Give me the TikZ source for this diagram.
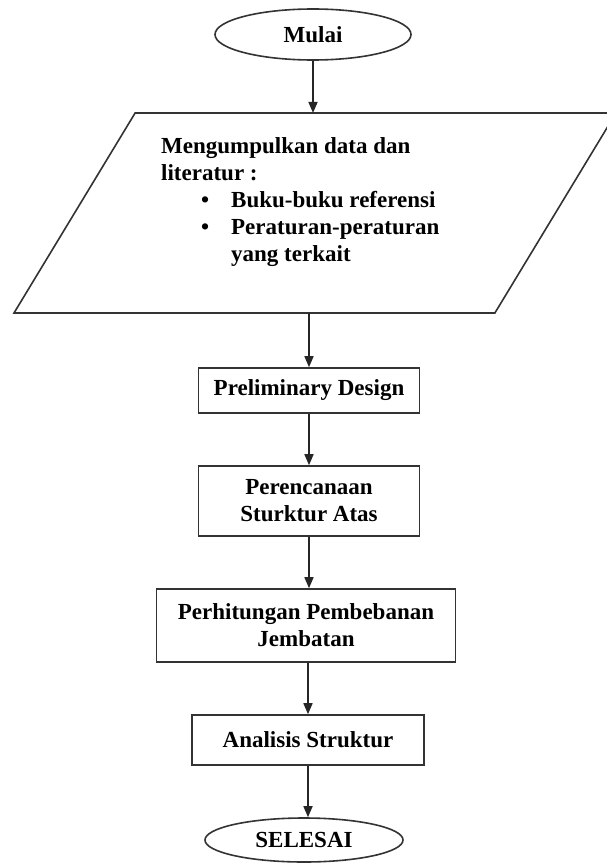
\documentclass[tikz,border=0pt]{standalone}
\usepackage{fontspec}
\setmainfont{Liberation Serif}
\usetikzlibrary{shapes.geometric, arrows.meta}

\begin{document}
\begin{tikzpicture}[x=1pt, y=-1pt, >={Triangle[length=11pt, width=9pt]},
    every node/.style={font=\bfseries\fontsize{23}{27}\selectfont, text=black},
    garis/.style={draw=black!80, line width=1.6pt},
    terminal/.style={garis, ellipse, inner sep=0pt},
    proses/.style={garis, rectangle, inner sep=0pt, align=center},
    panah/.style={->, draw=black!85, line width=1.6pt}]

    \useasboundingbox (0,0) rectangle (607,864);
    \clip (0,0) rectangle (607,864);

    % mulai
    \node[terminal, minimum width=196pt, minimum height=51pt] (mulai) at (313,34.5) {Mulai};

    % input data dan literatur
    \node[garis, trapezium, trapezium left angle=58.8, trapezium right angle=121.2,
          trapezium stretches body, minimum width=602pt,
          inner xsep=1pt, inner ysep=100pt, outer sep=0pt] (data) at (315,213) {};
    \node[anchor=north west, align=left, inner sep=0pt] (datateks) at (161,137)
        {Mengumpulkan data dan\\
         literatur :\\
         \hspace*{40pt}\makebox[30pt][l]{\textbullet}Buku-buku referensi\\
         \hspace*{40pt}\makebox[30pt][l]{\textbullet}Peraturan-peraturan\\
         \hspace*{70pt}yang terkait};

    % proses
    \node[proses, minimum width=221pt, minimum height=45pt] (prelim) at (309,390.5) {Preliminary Design};
    \node[proses, minimum width=221pt, minimum height=70pt] (renc) at (309,501) {Perencanaan\\Sturktur Atas};
    \node[proses, minimum width=299pt, minimum height=73pt] (hitung) at (306,625.5) {Perhitungan Pembebanan\\Jembatan};
    \node[proses, minimum width=232pt, minimum height=50pt] (analisis) at (308,740) {Analisis Struktur};

    % selesai
    \node[terminal, minimum width=198pt, minimum height=44pt] (selesai) at (304,840) {SELESAI};

    % panah
    \draw[panah] (mulai.south) -- (mulai.south |- data.north);
    \draw[panah] (prelim.north |- data.south) -- (prelim.north);
    \draw[panah] (prelim.south) -- (prelim.south |- renc.north);
    \draw[panah] (renc.south) -- (renc.south |- hitung.north);
    \draw[panah] (analisis.north |- hitung.south) -- (analisis.north);
    \draw[panah] (analisis.south) -- (analisis.south |- selesai.north);

\end{tikzpicture}
\end{document}
